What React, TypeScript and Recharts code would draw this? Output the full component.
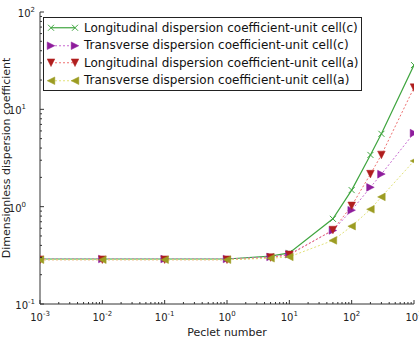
import React from 'react';
import {LineChart, Line, XAxis, YAxis, Legend} from 'recharts';

const peclet = [0.001, 0.01, 0.1, 1, 5, 10, 50, 100, 200, 300, 1000];
const longC = [0.29, 0.29, 0.29, 0.29, 0.31, 0.335, 0.75, 1.48, 3.4, 5.6, 28.5];
const transC = [0.29, 0.29, 0.29, 0.29, 0.305, 0.325, 0.57, 0.92, 1.58, 2.16, 5.7];
const longA = [0.285, 0.285, 0.285, 0.285, 0.3, 0.32, 0.575, 1.02, 2.16, 3.4, 16.7];
const transA = [0.285, 0.285, 0.285, 0.285, 0.295, 0.305, 0.45, 0.63, 0.94, 1.26, 2.95];

const seriesNames = [
    'Longitudinal dispersion coefficient-unit cell(c)',
    'Transverse dispersion coefficient-unit cell(c)',
    'Longitudinal dispersion coefficient-unit cell(a)',
    'Transverse dispersion coefficient-unit cell(a)',
];

const xDecades = [0.001, 0.01, 0.1, 1, 10, 100, 1000];
const yDecades = [0.1, 1, 10, 100];
const minorSteps = [2, 3, 4, 5, 6, 7, 8, 9];

const FONT = 'DejaVu Sans';
const FRAME = '#333';

const withMinor = (decades: number[]) => {
    const out: number[] = [];
    decades.forEach((d, i) => {
        out.push(d);
        if (i < decades.length - 1) minorSteps.forEach(m => out.push(d * m));
    });
    return out;
};
const xTicks = withMinor(xDecades);
const yTicks = withMinor(yDecades);

const data = peclet.map((x, i) => ({x, longC: longC[i], transC: transC[i], longA: longA[i], transA: transA[i]}));

const series = [
    {key: 'longC', name: seriesNames[0], line: '#3fa53f', marker: '#3fa53f', kind: 'x', dash: undefined, width: 1.2},
    {key: 'transC', name: seriesNames[1], line: '#c86ad0', marker: '#8e1c9c', kind: 'right', dash: '2 2', width: 1},
    {key: 'longA', name: seriesNames[2], line: '#ee7070', marker: '#b01e1e', kind: 'down', dash: '2 2', width: 1},
    {key: 'transA', name: seriesNames[3], line: '#e2e27a', marker: '#9c9c22', kind: 'left', dash: '2 2', width: 1},
];

const exponent = (v: number) => String(Math.round(Math.log10(v)));

const Marker = ({kind, cx, cy, color}: {kind: string; cx: number; cy: number; color: string}) => {
    const s = 3.8;
    if (kind === 'x') {
        return <g stroke={color} strokeWidth={1}>
            <line x1={cx - 3} y1={cy - 3} x2={cx + 3} y2={cy + 3}/>
            <line x1={cx - 3} y1={cy + 3} x2={cx + 3} y2={cy - 3}/>
        </g>;
    }
    let pts: number[][];
    if (kind === 'right') pts = [[cx + s, cy], [cx - s, cy - s], [cx - s, cy + s]];
    else if (kind === 'left') pts = [[cx - s, cy], [cx + s, cy - s], [cx + s, cy + s]];
    else pts = [[cx, cy + s], [cx - s, cy - s], [cx + s, cy - s]];
    return <polygon points={pts.map(p => p.join(',')).join(' ')} fill={color} stroke={color} strokeWidth={0.5}/>;
};

const XTickBottom = ({x, y, payload}: any) => {
    const major = xDecades.includes(payload.value);
    return <g>
        <line x1={x} x2={x} y1={y} y2={y - (major ? 4 : 2)} stroke={FRAME}/>
        {major && <text x={x} y={y + 17} textAnchor="middle" fontFamily={FONT} fontSize={10} fill="#222">
            10<tspan dy={-5} fontSize={7}>{exponent(payload.value)}</tspan>
        </text>}
    </g>;
};

const XTickTop = ({x, y, payload}: any) => {
    const major = xDecades.includes(payload.value);
    return <line x1={x} x2={x} y1={y} y2={y + (major ? 4 : 2)} stroke={FRAME}/>;
};

const YTickLeft = ({x, y, payload}: any) => {
    const major = yDecades.includes(payload.value);
    const e = exponent(payload.value);
    const right = e === '0' || e === '1' ? 26 : 35;
    return <g>
        <line x1={x} x2={x + (major ? 4 : 2)} y1={y} y2={y} stroke={FRAME}/>
        {major && <text x={right} y={y + 5} textAnchor="end" fontFamily={FONT} fontSize={10} fill="#222">
            10<tspan dy={-5} fontSize={7}>{e}</tspan>
        </text>}
    </g>;
};

const YTickRight = ({x, y, payload}: any) => {
    const major = yDecades.includes(payload.value);
    return <line x1={x} x2={x - (major ? 4 : 2)} y1={y} y2={y} stroke={FRAME}/>;
};

const LegendBox = () => (
    <div style={{border: '1px solid #222', background: '#fff', width: 317, height: 71, paddingTop: 1, fontFamily: FONT, fontSize: 12, color: '#111', boxSizing: 'content-box'}}>
        {series.map(s => <div key={s.key} style={{display: 'flex', alignItems: 'center', height: 17.5}}>
            <svg width={40} height={17.5} style={{flex: 'none'}}>
                <line x1={7} x2={31} y1={8.75} y2={8.75} stroke={s.line} strokeWidth={s.width} strokeDasharray={s.dash}/>
                <Marker kind={s.kind} cx={7} cy={8.75} color={s.marker}/>
                <Marker kind={s.kind} cx={31} cy={8.75} color={s.marker}/>
            </svg>
            <span style={{whiteSpace: 'nowrap'}}>{s.name}</span>
        </div>)}
    </div>
);

export default function App() {
    return <div style={{position: 'absolute', left: 0, top: 0, background: '#fff'}}>
        <style>{'body{margin:0;background:#fff}'}</style>
        <LineChart width={419} height={339} data={data} margin={{top: 12, right: 5, bottom: 0, left: 0}}>
            <XAxis dataKey="x" type="number" scale="log" domain={[0.001, 1000]} allowDataOverflow ticks={xTicks}
                   interval={0} height={35} tickSize={0} tickMargin={0} tickLine={false} tick={XTickBottom}
                   axisLine={{stroke: FRAME}}
                   label={{value: 'Peclet number', position: 'insideBottom', offset: 3, style: {fontFamily: FONT, fontSize: 11, fill: '#222'}}}/>
            <XAxis xAxisId="top" orientation="top" dataKey="x" type="number" scale="log" domain={[0.001, 1000]}
                   allowDataOverflow ticks={xTicks} interval={0} height={0} tickSize={0} tickMargin={0}
                   tickLine={false} tick={XTickTop} axisLine={{stroke: FRAME}}/>
            <YAxis type="number" scale="log" domain={[0.1, 100]} allowDataOverflow ticks={yTicks} interval={0}
                   width={40} tickSize={0} tickMargin={0} tickLine={false} tick={YTickLeft} axisLine={{stroke: FRAME}}
                   label={{value: 'Dimensionless dispersion coefficient', angle: -90, position: 'insideLeft', offset: 6,
                       style: {fontFamily: FONT, fontSize: 11, fill: '#222', textAnchor: 'middle'}}}/>
            <YAxis yAxisId="right" orientation="right" type="number" scale="log" domain={[0.1, 100]} allowDataOverflow
                   ticks={yTicks} interval={0} width={0} tickSize={0} tickMargin={0} tickLine={false}
                   tick={YTickRight} axisLine={{stroke: FRAME}}/>
            {series.map(s => <Line key={s.key} dataKey={s.key} name={s.name} type="linear" stroke={s.line}
                                   strokeWidth={s.width} strokeDasharray={s.dash} isAnimationActive={false}
                                   dot={(p: any) => <Marker key={`${s.key}-${p.index}`} kind={s.kind} cx={p.cx} cy={p.cy} color={s.marker}/>}
                                   activeDot={false}/>)}
            <Legend layout="vertical" align="center" verticalAlign="middle" content={LegendBox}
                    wrapperStyle={{top: 17, left: 43, width: 319, height: 73}}/>
        </LineChart>
    </div>;
}
